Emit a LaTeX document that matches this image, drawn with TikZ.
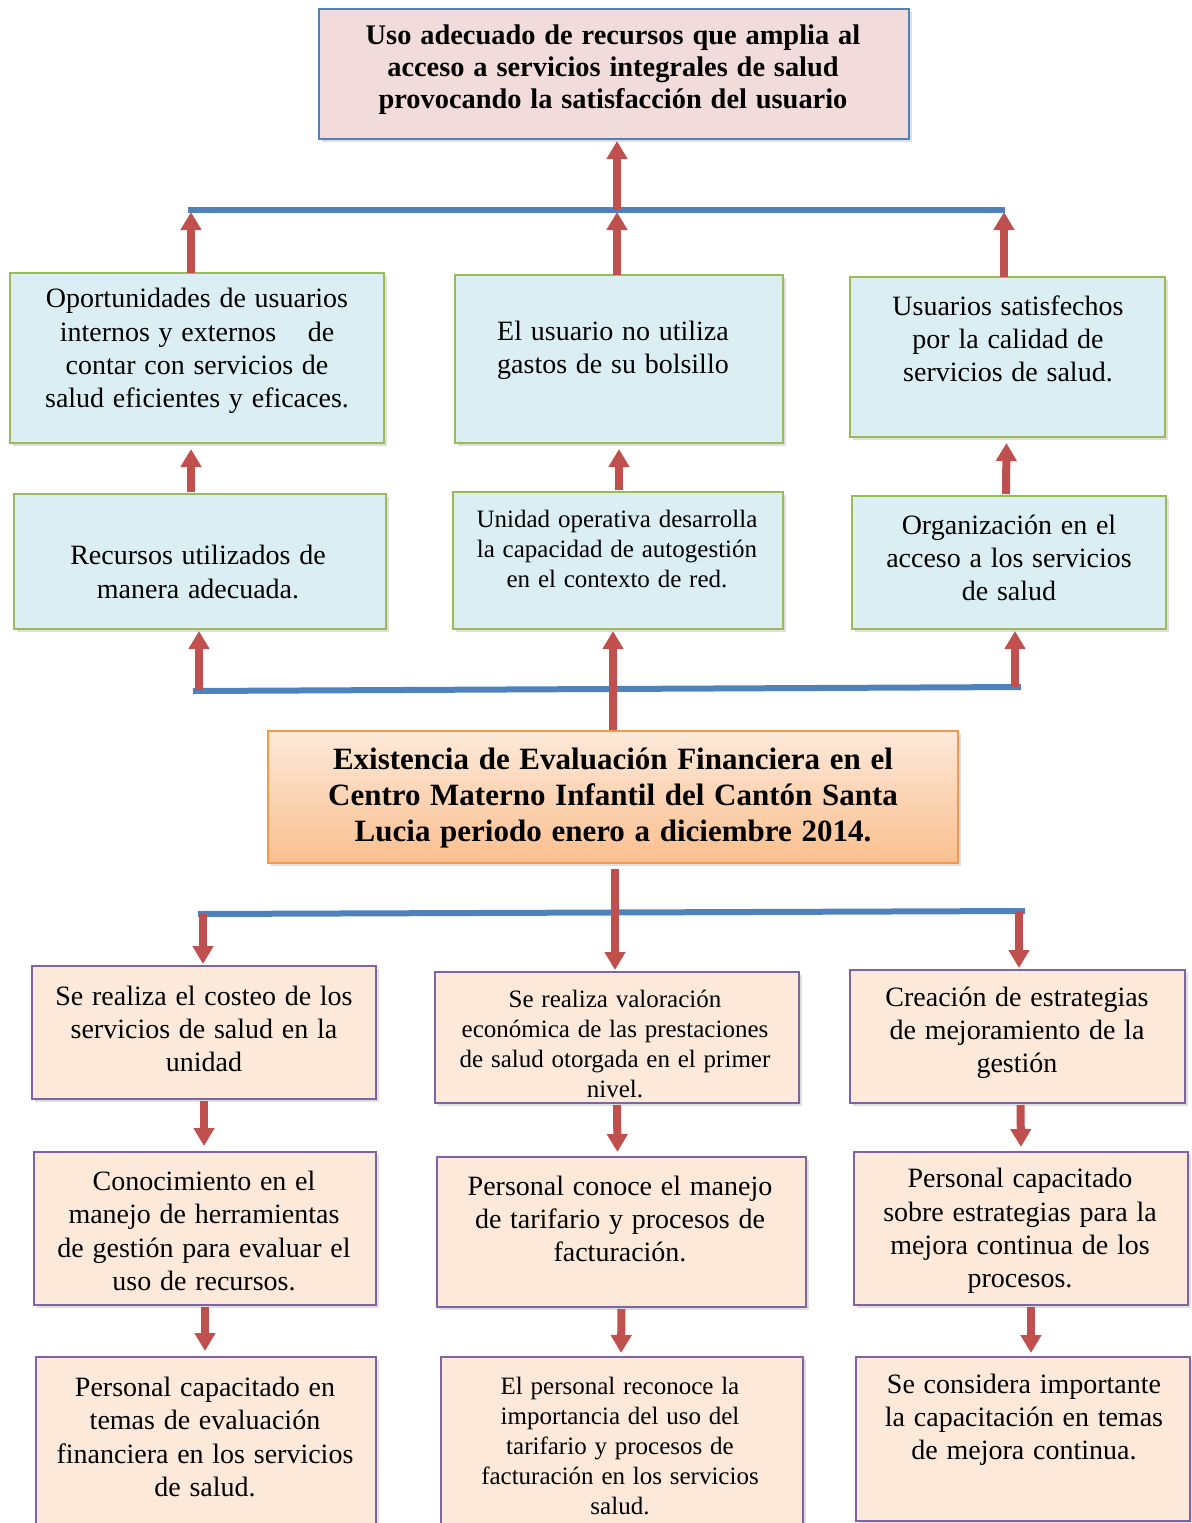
\documentclass[tikz,border=0pt]{standalone}
\usepackage{fontspec}
\setmainfont[WordSpace=1.25]{Liberation Serif}
\usetikzlibrary{arrows.meta,shadows,fit,calc}
\definecolor{topF}{HTML}{F2DCDB}
\definecolor{topB}{HTML}{4F81BD}
\definecolor{grnF}{HTML}{DBEEF3}
\definecolor{grnB}{HTML}{9BBB59}
\definecolor{purF}{HTML}{FDE9D9}
\definecolor{purB}{HTML}{8064A2}
\definecolor{orB}{HTML}{F79646}
\definecolor{orT}{HTML}{FDE9D9}
\definecolor{orBot}{HTML}{FABF8F}
\definecolor{arrC}{HTML}{C0504D}
\definecolor{lineC}{HTML}{4F81BD}
\tikzset{
  box/.style={inner sep=0pt, outer sep=0pt, draw, line width=1.1pt,
    drop shadow={shadow xshift=1.5pt, shadow yshift=-1.5pt, opacity=0.25}},
  topbox/.style={box, draw=topB, fill=topF},
  gbox/.style={box, draw=grnB, fill=grnF},
  pbox/.style={box, draw=purB, fill=purF},
  obox/.style={box, draw=orB, top color=orT, bottom color=orBot},
  txt/.style={align=center, inner sep=0pt, font=\fontsize{14}{16.6}\selectfont},
  smalltxt/.style={align=center, inner sep=0pt, font=\fontsize{12.5}{15}\selectfont},
  boldtxt/.style={align=center, inner sep=0pt, font=\fontsize{14.2}{16}\selectfont\bfseries},
  bigtxt/.style={align=center, inner sep=0pt, font=\fontsize{15.5}{18}\selectfont\bfseries},
  arr/.style={draw=arrC, line width=4pt, -{Triangle[width=10pt,length=9pt]}, shorten >=1pt},
  hline/.style={draw=lineC, line width=3pt},
}
\begin{document}
\begin{tikzpicture}[x=0.5pt,y=-0.5pt]
\useasboundingbox (0,0) rectangle (1192,1523);

% boxes
\node[topbox, fit={(319,9) (909,139)}] (T) {};
\node[gbox, fit={(10,273) (384,443)}] (A) {};
\node[gbox, fit={(455,275) (783,443)}] (B) {};
\node[gbox, fit={(850,277) (1165,437)}] (C) {};
\node[gbox, fit={(14,494) (386,629)}] (D) {};
\node[gbox, fit={(453,492) (783,629)}] (E) {};
\node[gbox, fit={(852,496) (1166,629)}] (F) {};
\node[obox, fit={(268,731) (958,863)}] (O) {};
\node[pbox, fit={(32,966) (376,1099)}] (G) {};
\node[pbox, fit={(435,972) (799,1103)}] (H) {};
\node[pbox, fit={(850,970) (1185,1103)}] (I) {};
\node[pbox, fit={(34,1152) (376,1305)}] (J) {};
\node[pbox, fit={(437,1157) (806,1307)}] (K) {};
\node[pbox, fit={(854,1152) (1188,1305)}] (L) {};
\node[pbox, fit={(36,1357) (376,1560)}] (M) {};
\node[pbox, fit={(441,1357) (803,1560)}] (N) {};
\node[pbox, fit={(856,1357) (1190,1521)}] (P) {};

% texts
\node[boldtxt] (Tt) at (613,70) {Uso adecuado de recursos que amplia al\\acceso a servicios integrales de salud\\provocando la satisfacción del usuario};
\node[txt] (At) at (197,351) {Oportunidades de usuarios\\internos y externos \enspace\ de\\contar con servicios de\\salud eficientes y eficaces.};
\node[txt] (Bt) at (613,350) {El usuario no utiliza\\gastos de su bolsillo};
\node[txt] (Ct) at (1008,339) {Usuarios satisfechos\\por la calidad de\\servicios de salud.};
\node[txt] (Dt) at (198,572) {Recursos utilizados de\\manera adecuada.};
\node[smalltxt] (Et) at (617,549) {Unidad operativa desarrolla\\la capacidad de autogestión\\en el contexto de red.};
\node[txt] (Ft) at (1009,558) {Organización en el\\acceso a los servicios\\de salud};
\node[bigtxt] (Ot) at (613,798) {Existencia de Evaluación Financiera en el\\Centro Materno Infantil del Cantón Santa\\Lucia periodo enero a diciembre 2014.};
\node[txt] (Gt) at (204,1029) {Se realiza el costeo de los\\servicios de salud en la\\unidad};
\node[smalltxt] (Ht) at (615,1044) {Se realiza valoración\\económica de las prestaciones\\de salud otorgada en el primer\\nivel.};
\node[txt] (It) at (1017,1033) {Creación de estrategias\\de mejoramiento de la\\gestión};
\node[txt] (Jt) at (204,1231) {Conocimiento en el\\manejo de herramientas\\de gestión para evaluar el\\uso de recursos.};
\node[txt] (Kt) at (620,1219) {Personal conoce el manejo\\de tarifario y procesos de\\facturación.};
\node[txt] (Lt) at (1020,1231) {Personal capacitado\\sobre estrategias para la\\mejora continua de los\\procesos.};
\node[txt] (Mt) at (205,1437) {Personal capacitado en\\temas de evaluación\\financiera en los servicios\\de salud.};
\node[smalltxt] (Nt) at (620,1446) {El personal reconoce la\\importancia del uso del\\tarifario y procesos de\\facturación en los servicios\\salud.};
\node[txt] (Pt) at (1024,1420) {Se considera importante\\la capacitación en temas\\de mejora continua.};

% junction coordinates
\coordinate (l1w) at (188,210);
\coordinate (l1e) at (1005,210);
\coordinate (l1a) at (191,210);
\coordinate (l1m) at (617,210);
\coordinate (l1c) at (1004,210);
\coordinate (l2w) at (193,691);
\coordinate (l2e) at (1021,687);
\coordinate (l2a) at (199,690);
\coordinate (l2c) at (1015,687);
\coordinate (l3w) at (198,914);
\coordinate (l3e) at (1025,911);
\coordinate (l3a) at (203,914);
\coordinate (l3c) at (1019,911);

% upper blue line and arrows
\draw[hline] (l1w) -- (l1e);
\draw[arr] (l1a |- A.north) -- (l1a);
\draw[arr] (l1m |- B.north) -- (l1m);
\draw[arr] (l1c |- C.north) -- (l1c);
\draw[arr] (l1m) -- (l1m |- T.south);

% row 3 -> row 2
\draw[arr] ($(D.north)+(-9,-2)$) -- ($(A.south)+(-6,4)$);
\draw[arr] ($(E.north)+(1,-2)$) -- ($(B.south)+(0,4)$);
\draw[arr] ($(F.north)+(-3,-2)$) -- ($(C.south)+(-1,4)$);

% middle blue line and arrows
\draw[hline] (l2w) -- (l2e);
\draw[arr] (l2a) -- (l2a |- D.south);
\draw[arr] (l2c) -- (l2c |- F.south);
\draw[arr] ($(O.north)+(0,-1)$) -- (O.north |- E.south);

% lower blue line and arrows
\draw[hline] (l3w) -- (l3e);
\draw[arr] ($(O.south)+(2,6)$) -- ($(H.north)+(-2,0)$);
\draw[arr] (l3a) -- (l3a |- G.north);
\draw[arr] (l3c) -- (l3c |- I.north);

% row 4 -> row 5 -> row 6
\draw[arr] ($(G.south)+(0,2)$) -- ($(J.north)+(-1,-4)$);
\draw[arr] ($(H.south)+(0,2)$) -- ($(K.north)+(-4,-3)$);
\draw[arr] ($(I.south)+(3,2)$) -- ($(L.north)+(0,-3)$);
\draw[arr] ($(J.south)+(0,2)$) -- ($(M.north)+(-1,-4)$);
\draw[arr] ($(K.south)+(0,2)$) -- ($(N.north)+(-1,-2)$);
\draw[arr] ($(L.south)+(10,2)$) -- ($(P.north)+(8,-2)$);
\end{tikzpicture}
\end{document}
